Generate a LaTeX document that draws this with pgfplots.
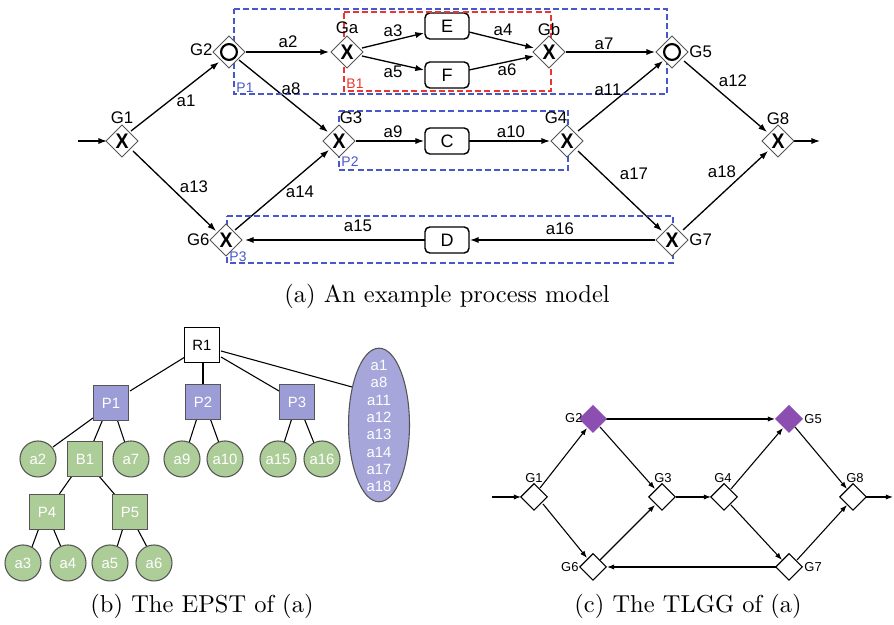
\documentclass[border=0pt]{standalone}
\usepackage{pgfplots}
\pgfplotsset{compat=1.18}
\usepackage{fontspec}
\newfontfamily\lab{Liberation Sans}
\usetikzlibrary{arrows.meta}
\definecolor{pblue}{RGB}{72,88,204}
\definecolor{bred}{RGB}{232,55,50}
\definecolor{gfill}{RGB}{172,204,152}
\definecolor{bfill}{RGB}{156,156,214}
\definecolor{efill}{RGB}{166,166,218}
\definecolor{purp}{RGB}{140,78,176}
\definecolor{dgray}{RGB}{85,85,85}
\pgfplotsset{
  txt/.style={draw=none, mark=none, nodes near coords, point meta=explicit symbolic,
     every node near coord/.append style={anchor=center, inner sep=0pt, text=black, #1}},
  edge/.style={black, line width=0.55pt, -{Latex[length=3.6pt,width=2.6pt]}},
  sedge/.style={black, line width=0.45pt, -{Latex[length=3pt,width=2.2pt]}},
  tline/.style={black, line width=0.45pt},
}
\newcommand{\EdgeA}[4]{\addplot[edge] coordinates {(#1,#2)(#3,#4)};}
\newcommand{\EdgeC}[4]{\addplot[sedge] coordinates {(#1,#2)(#3,#4)};}
\newcommand{\EdgeB}[4]{\addplot[tline] coordinates {(#1,#2)(#3,#4)};}
\begin{document}
\begin{tikzpicture}
\begin{axis}[scale only axis, width=372.5pt, height=260.4pt,
  xmin=0, xmax=894, ymin=0, ymax=625, y dir=reverse, hide axis, clip=false]
\addplot[draw=none] coordinates {(0,0)(894,625)};
% ---------------- panel (a) edges
\EdgeA{78}{141}{107}{141}
\EdgeA{131}{131}{219}{62}
\EdgeA{246}{52}{329}{52}
\EdgeA{362}{48}{424}{33}
\EdgeA{362}{56}{424}{70}
\EdgeA{469}{32}{534}{48}
\EdgeA{469}{70}{534}{56}
\EdgeA{566}{52}{655}{52}
\EdgeA{239}{60}{328}{132}
\EdgeA{356}{141}{424}{141}
\EdgeA{469}{141}{550}{141}
\EdgeA{578}{131}{663}{61}
\EdgeA{684}{61}{767}{132}
\EdgeA{794}{141}{820}{141}
\EdgeA{133}{151}{216}{231}
\EdgeA{235}{230}{329}{150}
\EdgeA{425}{240}{245}{240}
\EdgeA{655}{240}{470}{240}
\EdgeA{578}{151}{662}{231}
\EdgeA{683}{230}{768}{151}
% activity boxes
\addplot[black, line width=0.6pt, fill=white, rounded corners=2pt] coordinates {(425,13)(469,13)(469,39)(425,39)} -- cycle;
\addplot[black, line width=0.6pt, fill=white, rounded corners=2pt] coordinates {(425,62)(469,62)(469,88)(425,88)} -- cycle;
\addplot[black, line width=0.6pt, fill=white, rounded corners=2pt] coordinates {(425,128)(469,128)(469,154)(425,154)} -- cycle;
\addplot[black, line width=0.6pt, fill=white, rounded corners=2pt] coordinates {(425,227)(469,227)(469,253)(425,253)} -- cycle;
% gateways
\addplot[only marks, mark=square*, mark size=4.7pt, mark options={rotate=45, fill=white, draw=dgray, line width=0.4pt}]
  coordinates {(122,141)(229,52)(347,52)(549,52)(672,52)(339,141)(567,141)(778,141)(226,240)(672,240)};
\addplot[only marks, mark=o, mark size=3.3pt, mark options={line width=0.9pt, draw=black}]
  coordinates {(229,52)(672,52)};
% dashed regions
\addplot[pblue, line width=0.5pt, dash pattern=on 2.5pt off 1.3pt] coordinates {(234,9)(667,9)(667,94)(234,94)} -- cycle;
\addplot[bred, line width=0.5pt, dash pattern=on 2.5pt off 1.3pt] coordinates {(344,12)(551,12)(551,91)(344,91)} -- cycle;
\addplot[pblue, line width=0.5pt, dash pattern=on 2.5pt off 1.3pt] coordinates {(339,111)(568,111)(568,170)(339,170)} -- cycle;
\addplot[pblue, line width=0.5pt, dash pattern=on 2.5pt off 1.3pt] coordinates {(227,216)(673,216)(673,263)(227,263)} -- cycle;
% X glyphs
\addplot[txt={font=\lab\bfseries\fontsize{8.8}{9}\selectfont, xscale=0.92}] coordinates {
 (122,141)[X] (347,52)[X] (549,52)[X] (339,141)[X] (567,141)[X] (778,141)[X] (226,240)[X] (672,240)[X]};
% gateway labels
\addplot[txt={font=\lab\fontsize{7}{8}\selectfont}] coordinates {
 (122,118)[G1] (347,28)[Ga] (549,29)[Gb] (351,118)[G3] (556,118)[G4] (778,119)[G8]};
\addplot[txt={font=\lab\fontsize{7}{8}\selectfont, anchor=east}] coordinates {
 (213,50)[G2] (210,240)[G6]};
\addplot[txt={font=\lab\fontsize{7}{8}\selectfont, anchor=west}] coordinates {
 (689,52)[G5] (689,240)[G7]};
% edge labels
\addplot[txt={font=\lab\fontsize{7}{8}\selectfont}] coordinates {
 (186,101)[a1] (288,42)[a2] (393,31)[a3] (503,30)[a4] (393,72)[a5] (507,70)[a6] (604,44)[a7]
 (291,89)[a8] (393,132)[a9] (511,132)[a10] (608,90)[a11] (733,81)[a12] (194,187)[a13]
 (300,192)[a14] (358,226)[a15] (560,229)[a16] (634,174)[a17] (722,172)[a18]};
% box labels
\addplot[txt={font=\lab\fontsize{7.5}{8}\selectfont}] coordinates {
 (447,26)[E] (447,75)[F] (447,141)[C] (447,240)[D]};
% region labels
\addplot[txt={font=\lab\fontsize{5.8}{7}\selectfont, text=pblue}] coordinates {
 (245,88)[P1] (350,162)[P2] (238,257)[P3]};
\addplot[txt={font=\lab\fontsize{5.8}{7}\selectfont, text=bred}] coordinates {(355,84)[B1]};
\addplot[txt={font=\fontsize{10.2}{12}\selectfont}] coordinates {(447,296)[{(a) An example process model}]};
% ---------------- panel (b)
\EdgeB{185}{357}{130}{391}
\EdgeB{203}{362}{203}{387}
\EdgeB{221}{357}{279}{391}
\EdgeB{221}{351}{352}{387}
\EdgeB{93}{418}{53}{447}
\EdgeB{103}{419}{93}{443}
\EdgeB{117}{419}{125}{443}
\EdgeB{197}{418}{189}{443}
\EdgeB{210}{418}{219}{443}
\EdgeB{292}{418}{284}{443}
\EdgeB{304}{418}{314}{443}
\EdgeB{72}{476}{58}{496}
\EdgeB{98}{475}{116}{496}
\EdgeB{39}{528}{32}{547}
\EdgeB{53}{528}{61}{547}
\EdgeB{123}{528}{117}{547}
\EdgeB{137}{528}{147}{547}
\addplot[only marks, mark=square*, mark size=7.2pt, mark options={fill=white, draw=black, line width=0.45pt}] coordinates {(202,345)};
\addplot[only marks, mark=square*, mark size=7.2pt, mark options={fill=bfill, draw=dgray, line width=0.45pt}] coordinates {(111,403)(203,402)(297,402)};
\addplot[only marks, mark=square*, mark size=7.2pt, mark options={fill=gfill, draw=dgray, line width=0.45pt}] coordinates {(85,459)(47,512)(130,512)};
\addplot[only marks, mark=*, mark size=7.5pt, mark options={fill=gfill, draw=dgray, line width=0.45pt}] coordinates {
 (38,459)(131,459)(182,459)(225,459)(278,459)(322,459)(23,563)(68,563)(110,563)(154,563)};
\addplot[only marks, mark=*, mark size=12.7pt, mark options={yscale=2.52, fill=efill, draw=dgray, line width=0.45pt}] coordinates {(379,425)};
\addplot[txt={font=\lab\fontsize{6.2}{7}\selectfont}] coordinates {(202,345)[R1]};
\addplot[txt={font=\lab\fontsize{6.2}{7}\selectfont, text=white}] coordinates {
 (111,403)[P1] (203,402)[P2] (297,402)[P3] (85,459)[B1] (47,512)[P4] (130,512)[P5]
 (38,459)[a2] (131,459)[a7] (182,459)[a9] (225,459)[a10] (278,459)[a15] (322,459)[a16]
 (23,563)[a3] (68,563)[a4] (110,563)[a5] (154,563)[a6]
 (379,365)[a1] (379,382)[a8] (379,400)[a11] (379,417)[a12] (379,434)[a13] (379,452)[a14] (379,469)[a17] (379,486)[a18]};
\addplot[txt={font=\fontsize{10.2}{12}\selectfont}] coordinates {(202,606)[{(b) The EPST of (a)}]};
% ---------------- panel (c)
\EdgeC{492}{497}{521}{497}
\EdgeC{540}{488}{587}{428}
\EdgeC{543}{504}{587}{558}
\EdgeC{606}{419}{775}{419}
\EdgeC{600}{427}{655}{489}
\EdgeC{600}{560}{655}{505}
\EdgeC{676}{497}{711}{497}
\EdgeC{731}{489}{783}{428}
\EdgeC{731}{505}{782}{560}
\EdgeC{795}{427}{847}{489}
\EdgeC{797}{560}{847}{505}
\EdgeC{776}{567}{607}{567}
\EdgeC{866}{497}{893}{497}
\addplot[only marks, mark=square*, mark size=3.9pt, mark options={rotate=45, fill=white, draw=black, line width=0.45pt}]
  coordinates {(534,497)(662,497)(724,497)(593,567)(789,567)(853,497)};
\addplot[only marks, mark=square*, mark size=3.9pt, mark options={rotate=45, fill=purp, draw=purp, line width=0.45pt}]
  coordinates {(593,419)(789,419)};
\addplot[txt={font=\lab\fontsize{5.4}{6}\selectfont}] coordinates {
 (534,478)[G1] (663,478)[G3] (723,478)[G4] (855,478)[G8]};
\addplot[txt={font=\lab\fontsize{5.4}{6}\selectfont, anchor=east}] coordinates {(583,418)[G2] (579,567)[G6]};
\addplot[txt={font=\lab\fontsize{5.4}{6}\selectfont, anchor=west}] coordinates {(804,419)[G5] (804,567)[G7]};
\addplot[txt={font=\fontsize{10.2}{12}\selectfont}] coordinates {(688,606)[{(c) The TLGG of (a)}]};
\end{axis}
\end{tikzpicture}
\end{document}
